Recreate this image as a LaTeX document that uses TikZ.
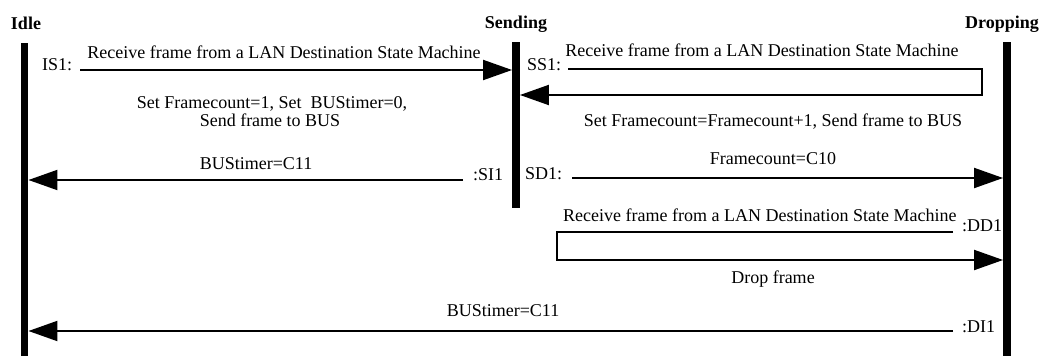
\documentclass[tikz,border=0pt]{standalone}
\usepackage{fontspec}
\setmainfont{Liberation Serif}
\usetikzlibrary{arrows.meta}
\begin{document}
\begin{tikzpicture}[x=1pt,y=-1pt,
  txt/.style={inner sep=0pt, font=\fontsize{18}{18}\selectfont, anchor=base},
  hd/.style={inner sep=0pt, font=\fontsize{18}{18}\selectfont\bfseries, anchor=base},
  bar/.style={fill=black, draw=none, minimum width=7.5pt, inner sep=0pt, anchor=north},
  msg/.style={line width=2pt, -{Triangle[length=29pt,width=20pt]}},
  ]
\useasboundingbox (0,0) rectangle (1041,356);
% lifelines
\node[bar, minimum height=313pt] (idle) at (24.5,43) {};
\node[bar, minimum height=166pt] (send) at (516,42) {};
\node[bar, minimum height=314pt] (drop) at (1007,42) {};
% headings
\node[hd] (hidle) at (26,29) {Idle};
\node[hd] (hsend) at (516,28) {Sending};
\node[hd, anchor=base east] (hdrop) at (1039,28) {Dropping};
% IS1
\node[txt, anchor=base west] (is1) at (42,70) {IS1:};
\coordinate (is1s) at (80,70);
\draw[msg] (is1s) -- (is1s -| send.west);
\node[txt] (is1t) at (284,58) {Receive frame from a LAN Destination State Machine};
\node[txt] (is1a) at (272,108) {Set Framecount=1, Set\ \ BUStimer=0,};
\node[txt] (is1b) at (270,126) {Send frame to BUS};
% SI1
\node[txt, anchor=base west] (si1) at (473,180) {:SI1};
\coordinate (si1s) at (463,180);
\draw[msg] (si1s) -- (si1s -| idle.east);
\node[txt] (si1t) at (256,169) {BUStimer=C11};
% SS1
\node[txt, anchor=base west] (ss1) at (527,70) {SS1:};
\coordinate (ss1s) at (568,69);
\coordinate (ss1c) at (982,95);
\draw[msg] (ss1s) -- (ss1s -| ss1c) -- (ss1c) -- (ss1c -| send.east);
\node[txt] (ss1t) at (762,56) {Receive frame from a LAN Destination State Machine};
\node[txt] (ss1a) at (773,126) {Set Framecount=Framecount+1, Send frame to BUS};
% SD1
\node[txt, anchor=base west] (sd1) at (525,179) {SD1:};
\coordinate (sd1s) at (572,178);
\draw[msg] (sd1s) -- (sd1s -| drop.west);
\node[txt] (sd1t) at (773,164) {Framecount=C10};
% DD1
\node[txt, anchor=base west] (dd1t) at (563,221) {Receive frame from a LAN Destination State Machine};
\node[txt, anchor=base west] (dd1) at (962,231) {:DD1};
\coordinate (dd1s) at (953,232);
\coordinate (dd1c) at (557,260);
\draw[msg] (dd1s) -- (dd1s -| dd1c) -- (dd1c) -- (dd1c -| drop.west);
\node[txt] (dd1a) at (773,283) {Drop frame};
% DI1
\node[txt, anchor=base west] (di1) at (962,332) {:DI1};
\coordinate (di1s) at (953,331);
\draw[msg] (di1s) -- (di1s -| idle.east);
\node[txt] (di1t) at (503,316) {BUStimer=C11};
\end{tikzpicture}
\end{document}
